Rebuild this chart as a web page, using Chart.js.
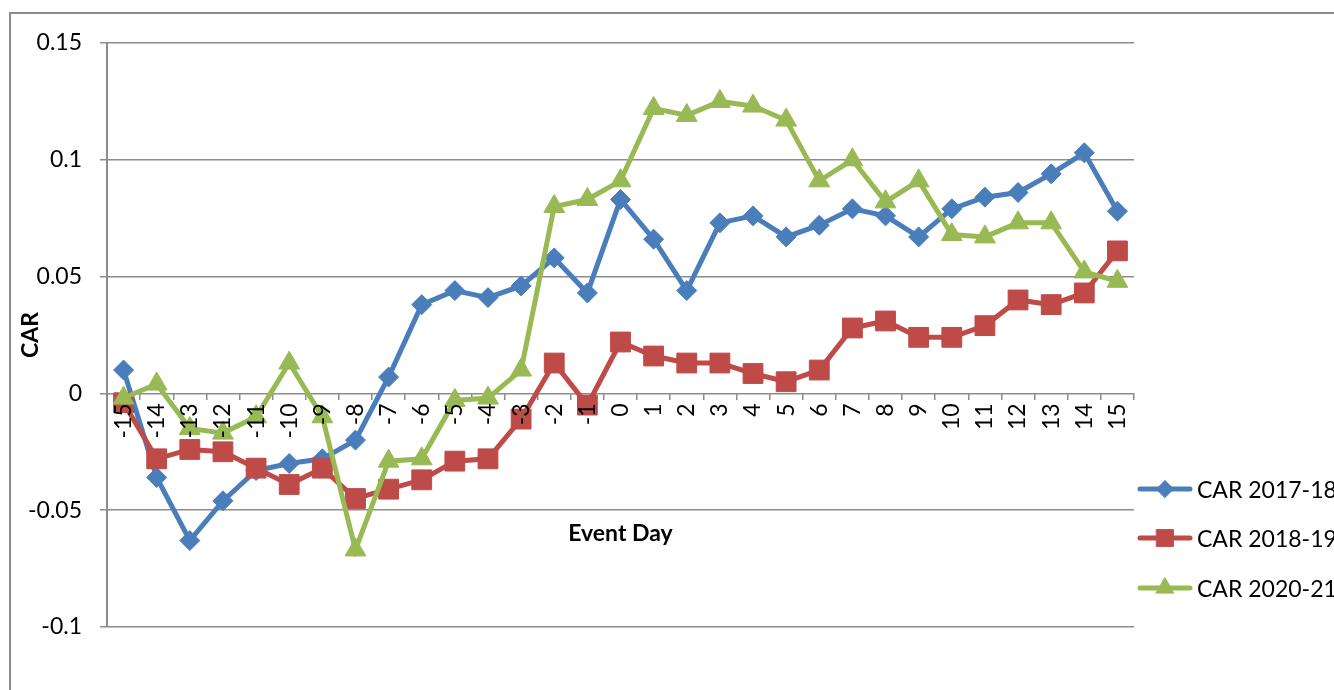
<!DOCTYPE html>
<html>
<head>
<meta charset="utf-8">
<title>CAR by event day</title>
<script src="https://cdn.jsdelivr.net/npm/chart.js@4.4.1/dist/chart.umd.min.js"></script>
<style>
    html, body { margin: 0; padding: 0; background: #fff; overflow: hidden; }
    #wrap { position: relative; width: 1334px; height: 690px; overflow: hidden; }
    #frame {
        position: absolute; left: 9px; top: 12px; width: 1400px; height: 800px;
        border-left: 2px solid #8c8c8c; border-top: 2px solid #8c8c8c;
    }
    #chart { position: absolute; left: 0; top: 0; }
    #legend { position: absolute; left: 1137px; top: 0; font-family: Lato, sans-serif; font-size: 23px; color: #000; }
    .legend-item { position: absolute; left: 0; height: 30px; display: flex; align-items: center; white-space: nowrap; }
    .legend-item canvas { margin-right: 4px; }
</style>
</head>
<body>
<div id="wrap">
    <div id="frame"></div>
    <canvas id="chart" width="1334" height="690"></canvas>
    <div id="legend"></div>
</div>
<script>
const eventDays = ['-15', '-14', '-13', '-12', '-11', '-10', '-9', '-8', '-7', '-6', '-5', '-4', '-3', '-2', '-1',
    '0', '1', '2', '3', '4', '5', '6', '7', '8', '9', '10', '11', '12', '13', '14', '15'];

const car201718 = [0.010, -0.036, -0.063, -0.046, -0.033, -0.030, -0.028, -0.020, 0.007, 0.038, 0.044, 0.041, 0.046, 0.058, 0.043,
    0.083, 0.066, 0.044, 0.073, 0.076, 0.067, 0.072, 0.079, 0.076, 0.067, 0.079, 0.084, 0.086, 0.094, 0.103, 0.078];

const car201819 = [-0.004, -0.028, -0.024, -0.025, -0.032, -0.039, -0.032, -0.045, -0.041, -0.037, -0.029, -0.028, -0.011, 0.013, -0.005,
    0.022, 0.016, 0.013, 0.013, 0.0085, 0.005, 0.010, 0.028, 0.031, 0.024, 0.024, 0.029, 0.040, 0.038, 0.043, 0.061];

const car202021 = [-0.002, 0.004, -0.015, -0.017, -0.010, 0.013, -0.010, -0.067, -0.029, -0.028, -0.003, -0.002, 0.010, 0.080, 0.083,
    0.091, 0.122, 0.119, 0.125, 0.123, 0.117, 0.091, 0.100, 0.082, 0.091, 0.068, 0.067, 0.073, 0.073, 0.052, 0.048];

const yMin = -0.1;
const yMax = 0.15;
const yStep = 0.05;

const gridColor = '#8c8c8c';
const fontFamily = 'Lato, sans-serif';

function series(label, data, color, pointStyle, radius, order) {
    return {
        label: label,
        data: data,
        borderColor: color,
        backgroundColor: color,
        borderWidth: 5,
        pointStyle: pointStyle,
        pointRadius: radius,
        pointBorderWidth: 1,
        pointBackgroundColor: color,
        pointBorderColor: color,
        tension: 0,
        order: order
    };
}

const datasets = [
    series('CAR 2017-18', car201718, '#4a7ebb', 'rectRot', 10, 3),
    series('CAR 2018-19', car201819, '#be4b48', 'rect', 14, 2),
    series('CAR 2020-21', car202021, '#98b954', 'triangle', 12, 1)
];

function buildLegend(chart) {
    const box = document.getElementById('legend');
    box.innerHTML = '';
    const centers = [489, 538, 588];
    chart.data.datasets.forEach((ds, i) => {
        const item = document.createElement('div');
        item.className = 'legend-item';
        item.style.top = (centers[i] - 15) + 'px';

        const sample = document.createElement('canvas');
        sample.width = 56;
        sample.height = 30;
        const ctx = sample.getContext('2d');
        ctx.strokeStyle = ds.borderColor;
        ctx.lineWidth = 5;
        ctx.lineCap = 'round';
        ctx.beginPath();
        ctx.moveTo(3, 15);
        ctx.lineTo(53, 15);
        ctx.stroke();
        ctx.fillStyle = ds.pointBackgroundColor;
        ctx.strokeStyle = ds.pointBorderColor;
        ctx.lineWidth = 1;
        if (Chart.helpers && Chart.helpers.drawPoint) {
            Chart.helpers.drawPoint(ctx, {pointStyle: ds.pointStyle, radius: ds.pointRadius * 0.85, borderWidth: 1, rotation: 0}, 28, 15);
        }

        const text = document.createElement('span');
        text.textContent = ds.label;
        item.appendChild(sample);
        item.appendChild(text);
        box.appendChild(item);
    });
}

const chart = new Chart(document.getElementById('chart').getContext('2d'), {
    type: 'line',
    data: {
        labels: eventDays,
        datasets: datasets
    },
    options: {
        responsive: false,
        animation: false,
        devicePixelRatio: 1,
        layout: {padding: {left: 0, top: 43, right: 200, bottom: 63}},
        plugins: {
            legend: {display: false},
            tooltip: {enabled: false}
        },
        scales: {
            x: {
                type: 'category',
                offset: true,
                position: {y: 0},
                border: {display: false},
                grid: {drawOnChartArea: false, offset: true, color: gridColor, lineWidth: 1.5, tickLength: 7},
                ticks: {
                    z: 1,
                    autoSkip: false,
                    minRotation: 90,
                    maxRotation: 90,
                    padding: 3,
                    color: '#000',
                    font: {family: fontFamily, size: 23}
                },
                title: {
                    display: true,
                    text: 'Event Day',
                    color: '#000',
                    font: {family: fontFamily, size: 23, weight: 'bold'},
                    padding: {top: 78, bottom: 0}
                }
            },
            y: {
                min: yMin,
                max: yMax,
                afterFit: scale => { scale.width = 107; },
                border: {color: gridColor, width: 2},
                grid: {color: gridColor, lineWidth: 1.5, tickLength: 7},
                ticks: {
                    stepSize: yStep,
                    padding: 18,
                    color: '#000',
                    font: {family: fontFamily, size: 23},
                    callback: value => String(+Number(value).toFixed(2))
                },
                title: {
                    display: true,
                    text: 'CAR',
                    color: '#000',
                    font: {family: fontFamily, size: 23, weight: 'bold'},
                    padding: {top: 17, bottom: 0}
                }
            }
        }
    }
});

buildLegend(chart);
</script>
</body>
</html>
